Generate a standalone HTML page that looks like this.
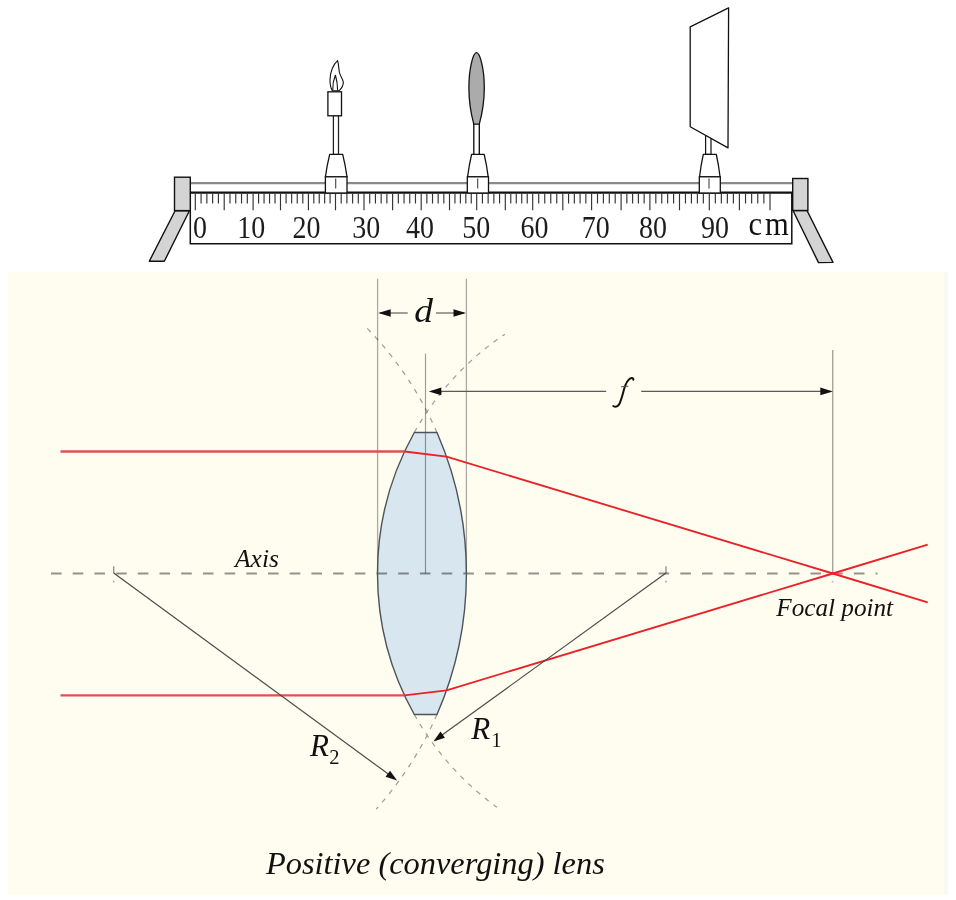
<!DOCTYPE html>
<html><head><meta charset="utf-8"><style>
html,body{margin:0;padding:0;background:#fff;}
svg{display:block;will-change:transform;}
text{font-family:"Liberation Serif",serif;}
</style></head><body>
<svg width="956" height="900" viewBox="0 0 956 900">
<rect width="956" height="900" fill="#fff"/>
<rect x="7.5" y="271.8" width="936.5" height="623.4" fill="#fffdf0"/><rect x="944" y="271.8" width="4" height="623.4" fill="#fafaf5"/><path d="M414.30 432.5 L436.99 432.5 A352.7 352.7 0 0 1 436.99 714.5 L414.30 714.5 A288.5 288.5 0 0 1 414.30 432.5 Z" fill="#d8e6f0" stroke="none"/><path d="M414.30 432.50 L415.13 431.03 L415.97 429.57 L416.81 428.11 L417.67 426.66 L418.53 425.21 L419.40 423.76 L420.28 422.33 L421.17 420.89 L422.06 419.46 L422.97 418.04 L423.88 416.62 L424.80 415.21 L425.73 413.81 L426.67 412.40 L427.61 411.01 L428.57 409.62 L429.53 408.23 L430.50 406.86 L431.47 405.48 L432.46 404.11 L433.45 402.75 L434.46 401.40 L435.46 400.05 L436.48 398.70 L437.51 397.37 L438.54 396.03 L439.58 394.71 L440.63 393.39 L441.69 392.07 L442.75 390.77 L443.82 389.46 L444.90 388.17 L445.99 386.88 L447.08 385.60 L448.18 384.32 L449.29 383.05 L450.41 381.79 L451.53 380.53 L452.66 379.28 L453.80 378.04 L454.95 376.80 L456.10 375.57 L457.26 374.35 L458.43 373.13 L459.60 371.93 L460.78 370.72 L461.97 369.53 L463.17 368.34 L464.37 367.16 L465.58 365.98 L466.80 364.81 L468.02 363.65 L469.25 362.50 L470.48 361.35 L471.73 360.22 L472.98 359.08 L474.23 357.96 L475.49 356.84 L476.76 355.73 L478.04 354.63 L479.32 353.54 L480.61 352.45 L481.91 351.37 L483.21 350.30 L484.51 349.23 L485.83 348.18 L487.15 347.13 L488.47 346.09 L489.80 345.05 L491.14 344.03 L492.49 343.01 L493.84 342.00 L495.19 341.00 L496.55 340.01 L497.92 339.02 L499.29 338.04 L500.67 337.07 L502.06 336.11 L503.45 335.16 L504.84 334.21" stroke="#9c9c9c" stroke-width="1.2" stroke-dasharray="5 6" fill="none"/><path d="M414.30 714.50 L415.07 715.86 L415.85 717.23 L416.63 718.58 L417.43 719.93 L418.22 721.28 L419.03 722.62 L419.84 723.96 L420.66 725.30 L421.49 726.63 L422.33 727.95 L423.17 729.27 L424.02 730.59 L424.88 731.90 L425.74 733.21 L426.61 734.51 L427.49 735.81 L428.37 737.10 L429.26 738.39 L430.16 739.67 L431.07 740.95 L431.98 742.22 L432.90 743.49 L433.83 744.76 L434.76 746.01 L435.70 747.27 L436.65 748.52 L437.60 749.76 L438.56 751.00 L439.53 752.23 L440.50 753.46 L441.48 754.68 L442.47 755.89 L443.47 757.10 L444.47 758.31 L445.47 759.51 L446.49 760.71 L447.51 761.89 L448.53 763.08 L449.57 764.26 L450.60 765.43 L451.65 766.60 L452.70 767.76 L453.76 768.91 L454.82 770.06 L455.89 771.21 L456.97 772.34 L458.05 773.48 L459.14 774.60 L460.24 775.72 L461.34 776.84 L462.45 777.95 L463.56 779.05 L464.68 780.14 L465.80 781.23 L466.93 782.32 L468.07 783.40 L469.21 784.47 L470.36 785.53 L471.52 786.59 L472.68 787.65 L473.84 788.69 L475.01 789.73 L476.19 790.77 L477.37 791.79 L478.56 792.82 L479.76 793.83 L480.95 794.84 L482.16 795.84 L483.37 796.83 L484.58 797.82 L485.81 798.80 L487.03 799.78 L488.26 800.75 L489.50 801.71 L490.74 802.67 L491.99 803.61 L493.24 804.56 L494.50 805.49 L495.76 806.42 L497.03 807.34" stroke="#9c9c9c" stroke-width="1.2" stroke-dasharray="5 6" fill="none"/><path d="M436.99 432.50 L436.33 430.99 L435.66 429.49 L434.99 427.99 L434.30 426.50 L433.62 425.00 L432.92 423.51 L432.22 422.03 L431.51 420.54 L430.79 419.06 L430.07 417.59 L429.34 416.12 L428.60 414.65 L427.86 413.18 L427.11 411.72 L426.35 410.26 L425.58 408.80 L424.81 407.35 L424.04 405.90 L423.25 404.46 L422.46 403.02 L421.66 401.58 L420.86 400.14 L420.04 398.71 L419.23 397.29 L418.40 395.87 L417.57 394.45 L416.73 393.03 L415.89 391.62 L415.04 390.22 L414.18 388.81 L413.32 387.41 L412.44 386.02 L411.57 384.63 L410.68 383.24 L409.79 381.86 L408.90 380.48 L407.99 379.11 L407.08 377.74 L406.17 376.37 L405.25 375.01 L404.32 373.65 L403.38 372.30 L402.44 370.95 L401.50 369.61 L400.54 368.27 L399.58 366.94 L398.62 365.60 L397.64 364.28 L396.67 362.96 L395.68 361.64 L394.69 360.33 L393.69 359.02 L392.69 357.72 L391.68 356.42 L390.67 355.13 L389.65 353.84 L388.62 352.55 L387.59 351.27 L386.55 350.00 L385.50 348.73 L384.45 347.47 L383.39 346.21 L382.33 344.95 L381.26 343.70 L380.19 342.46 L379.11 341.22 L378.02 339.98 L376.93 338.75 L375.84 337.53 L374.73 336.31 L373.62 335.10 L372.51 333.89 L371.39 332.68 L370.26 331.48 L369.13 330.29 L368.00 329.10 L366.86 327.92 L365.71 326.74 L364.55 325.57 L363.40 324.40" stroke="#9c9c9c" stroke-width="1.2" stroke-dasharray="5 6" fill="none"/><path d="M436.99 714.50 L436.42 715.79 L435.85 717.08 L435.27 718.37 L434.69 719.66 L434.10 720.94 L433.51 722.22 L432.91 723.50 L432.31 724.78 L431.70 726.05 L431.09 727.33 L430.47 728.60 L429.85 729.86 L429.22 731.13 L428.58 732.39 L427.94 733.65 L427.30 734.91 L426.65 736.16 L426.00 737.41 L425.34 738.66 L424.68 739.91 L424.01 741.15 L423.33 742.39 L422.66 743.63 L421.97 744.87 L421.28 746.10 L420.59 747.33 L419.89 748.56 L419.19 749.78 L418.48 751.00 L417.77 752.22 L417.05 753.44 L416.33 754.65 L415.60 755.86 L414.87 757.07 L414.13 758.27 L413.39 759.47 L412.64 760.67 L411.89 761.87 L411.13 763.06 L410.37 764.25 L409.60 765.43 L408.83 766.62 L408.06 767.80 L407.28 768.97 L406.49 770.15 L405.70 771.32 L404.91 772.49 L404.11 773.65 L403.31 774.81 L402.50 775.97 L401.68 777.12 L400.87 778.27 L400.04 779.42 L399.22 780.57 L398.39 781.71 L397.55 782.85 L396.71 783.98 L395.87 785.11 L395.02 786.24 L394.16 787.37 L393.30 788.49 L392.44 789.60 L391.57 790.72 L390.70 791.83 L389.83 792.94 L388.94 794.04 L388.06 795.14 L387.17 796.24 L386.28 797.33 L385.38 798.42 L384.47 799.51 L383.57 800.59 L382.66 801.67 L381.74 802.74 L380.82 803.81 L379.90 804.88 L378.97 805.94 L378.04 807.00 L377.10 808.06 L376.16 809.11" stroke="#9c9c9c" stroke-width="1.2" stroke-dasharray="5 6" fill="none"/><line x1="51" y1="573.5" x2="877.5" y2="573.5" stroke="rgba(0,0,0,0.42)" stroke-width="2" stroke-dasharray="10.6 11.1"/><circle cx="832.6" cy="581.8" r="1" fill="rgba(0,0,0,0.22)"/><line x1="113.7" y1="566.2" x2="113.7" y2="573" stroke="rgba(0,0,0,0.45)" stroke-width="1.3"/><circle cx="113.7" cy="581.6" r="1.1" fill="rgba(0,0,0,0.28)"/><line x1="666.0" y1="566.2" x2="666.0" y2="573" stroke="rgba(0,0,0,0.45)" stroke-width="1.3"/><circle cx="666.0" cy="581.6" r="1.1" fill="rgba(0,0,0,0.28)"/><line x1="377.6" y1="278.8" x2="377.6" y2="573.5" stroke="rgba(0,0,0,0.33)" stroke-width="1.3"/><line x1="466.4" y1="278.8" x2="466.4" y2="573.5" stroke="rgba(0,0,0,0.33)" stroke-width="1.3"/><line x1="425.5" y1="353.6" x2="425.5" y2="573.5" stroke="rgba(0,0,0,0.38)" stroke-width="1.2"/><line x1="832.8" y1="350" x2="832.8" y2="573.5" stroke="rgba(0,0,0,0.45)" stroke-width="1.1"/><path d="M414.30 432.5 L436.99 432.5 A352.7 352.7 0 0 1 436.99 714.5 L414.30 714.5 A288.5 288.5 0 0 1 414.30 432.5 Z" fill="none" stroke="#4d5358" stroke-width="1.4" stroke-linejoin="round"/><path d="M60.5 451.5 H404.57 M60.5 695.3 H404.47" fill="none" stroke="#e24f52" stroke-width="2.3"/><path d="M404.57 451.5 L446.50 456.7 L832.8 573.5 L927.7 602.4" fill="none" stroke="#ea2228" stroke-width="1.85" stroke-linejoin="round"/><path d="M404.47 695.3 L446.50 690.3 L832.8 573.5 L927.7 544.6" fill="none" stroke="#ea2228" stroke-width="1.85" stroke-linejoin="round"/><line x1="380" y1="313" x2="407.7" y2="313" stroke="#5a5a5a" stroke-width="1.15"/><line x1="436" y1="313" x2="464" y2="313" stroke="#5a5a5a" stroke-width="1.15"/><path d="M378.20 313.00 L390.70 309.20 L390.70 316.80 Z" fill="#111"/><path d="M466.00 313.00 L453.50 316.80 L453.50 309.20 Z" fill="#111"/><text transform="translate(414.3,322.2) scale(1.17,1.03)" font-family="Liberation Serif" font-style="italic" font-size="32" fill="#111">d</text><line x1="431" y1="391.4" x2="606.2" y2="391.4" stroke="#5a5a5a" stroke-width="1.15"/><line x1="641.2" y1="391.4" x2="831" y2="391.4" stroke="#5a5a5a" stroke-width="1.15"/><path d="M428.80 391.40 L441.30 387.60 L441.30 395.20 Z" fill="#111"/><path d="M832.80 391.40 L820.30 395.20 L820.30 387.60 Z" fill="#111"/><path d="M613.3 406.0 C615.6 407.4 617.6 406.6 619.1 404.4 C621.1 401 622.6 395 624.1 389 C625.6 384 627.6 379.6 630.4 378.3 C632 377.6 633.7 378.3 633.3 379.8" fill="none" stroke="#111" stroke-width="2" stroke-linecap="round"/><line x1="621" y1="386.8" x2="628.3" y2="386.3" stroke="#555" stroke-width="1.1"/><line x1="666" y1="573" x2="440" y2="736.6" stroke="#4a4a4a" stroke-width="1.2"/><path d="M433.40 741.40 L440.49 731.58 L444.94 737.73 Z" fill="#111"/><line x1="113.7" y1="573" x2="390" y2="775.3" stroke="#4a4a4a" stroke-width="1.2"/><path d="M397.10 780.60 L385.58 776.87 L390.07 770.74 Z" fill="#111"/><text x="235" y="567.4" font-family="Liberation Serif" font-style="italic" font-size="25.5" fill="#111">Axis</text><text x="776.3" y="615.9" font-family="Liberation Serif" font-style="italic" font-size="25.2" fill="#111">Focal point</text><text x="471.2" y="739.4" font-family="Liberation Serif" font-style="italic" font-size="31" fill="#111">R</text><text x="491.5" y="746.6" font-family="Liberation Serif" font-size="20" fill="#111">1</text><text x="310" y="756.4" font-family="Liberation Serif" font-style="italic" font-size="31" fill="#111">R</text><text x="329.3" y="763.5" font-family="Liberation Serif" font-size="20.5" fill="#111">2</text><text x="266" y="873.9" font-family="Liberation Serif" font-style="italic" font-size="32.4" fill="#111">Positive (converging) lens</text>
<g><line x1="190" y1="183.1" x2="793" y2="183.1" stroke="#8a8a8a" stroke-width="2.3"/><rect x="190.3" y="192.7" width="601.5" height="51" fill="#fff" stroke="none"/><path d="M190.3 192.7 V243.7 H791.8 V192.7" fill="none" stroke="#111" stroke-width="1.5"/><line x1="190" y1="192.6" x2="793" y2="192.6" stroke="#111" stroke-width="2.4"/><path d="M195.30 193.5V210.2M201.08 193.5V203.6M206.86 193.5V203.6M212.64 193.5V203.6M218.42 193.5V203.6M224.20 193.5V210.2M229.98 193.5V203.6M235.76 193.5V203.6M241.54 193.5V203.6M247.32 193.5V203.6M253.10 193.5V210.2M258.58 193.5V203.6M264.06 193.5V203.6M269.54 193.5V203.6M275.02 193.5V203.6M280.50 193.5V210.2M286.08 193.5V203.6M291.66 193.5V203.6M297.24 193.5V203.6M302.82 193.5V203.6M308.40 193.5V210.2M313.82 193.5V203.6M319.24 193.5V203.6M324.66 193.5V203.6M330.08 193.5V203.6M335.50 193.5V210.2M341.20 193.5V203.6M346.90 193.5V203.6M352.60 193.5V203.6M358.30 193.5V203.6M364.00 193.5V210.2M369.72 193.5V203.6M375.44 193.5V203.6M381.16 193.5V203.6M386.88 193.5V203.6M392.60 193.5V210.2M398.32 193.5V203.6M404.04 193.5V203.6M409.76 193.5V203.6M415.48 193.5V203.6M421.20 193.5V210.2M426.86 193.5V203.6M432.52 193.5V203.6M438.18 193.5V203.6M443.84 193.5V203.6M449.50 193.5V210.2M454.94 193.5V203.6M460.38 193.5V203.6M465.82 193.5V203.6M471.26 193.5V203.6M476.70 193.5V210.2M482.42 193.5V203.6M488.14 193.5V203.6M493.86 193.5V203.6M499.58 193.5V203.6M505.30 193.5V210.2M510.78 193.5V203.6M516.26 193.5V203.6M521.74 193.5V203.6M527.22 193.5V203.6M532.70 193.5V210.2M538.72 193.5V203.6M544.74 193.5V203.6M550.76 193.5V203.6M556.78 193.5V203.6M562.80 193.5V210.2M568.56 193.5V203.6M574.32 193.5V203.6M580.08 193.5V203.6M585.84 193.5V203.6M591.60 193.5V210.2M597.50 193.5V203.6M603.40 193.5V203.6M609.30 193.5V203.6M615.20 193.5V203.6M621.10 193.5V210.2M626.86 193.5V203.6M632.62 193.5V203.6M638.38 193.5V203.6M644.14 193.5V203.6M649.90 193.5V210.2M655.82 193.5V203.6M661.74 193.5V203.6M667.66 193.5V203.6M673.58 193.5V203.6M679.50 193.5V210.2M685.46 193.5V203.6M691.42 193.5V203.6M697.38 193.5V203.6M703.34 193.5V203.6M709.30 193.5V210.2M715.32 193.5V203.6M721.34 193.5V203.6M727.36 193.5V203.6M733.38 193.5V203.6M739.40 193.5V210.2M745.52 193.5V203.6M751.64 193.5V203.6M757.76 193.5V203.6M763.88 193.5V203.6M770.00 193.5V210.2" stroke="#333" stroke-width="1.15" fill="none"/><text transform="translate(192.9,237.6) scale(1,1.1)" font-family="Liberation Serif" font-size="28" fill="#1c1c1c">0</text><text transform="translate(237.2,237.6) scale(1,1.1)" font-family="Liberation Serif" font-size="28" fill="#1c1c1c">10</text><text transform="translate(292.5,237.6) scale(1,1.1)" font-family="Liberation Serif" font-size="28" fill="#1c1c1c">20</text><text transform="translate(352.2,237.6) scale(1,1.1)" font-family="Liberation Serif" font-size="28" fill="#1c1c1c">30</text><text transform="translate(406,237.6) scale(1,1.1)" font-family="Liberation Serif" font-size="28" fill="#1c1c1c">40</text><text transform="translate(462.3,237.6) scale(1,1.1)" font-family="Liberation Serif" font-size="28" fill="#1c1c1c">50</text><text transform="translate(520.6,237.6) scale(1,1.1)" font-family="Liberation Serif" font-size="28" fill="#1c1c1c">60</text><text transform="translate(581.8,237.6) scale(1,1.1)" font-family="Liberation Serif" font-size="28" fill="#1c1c1c">70</text><text transform="translate(639,237.6) scale(1,1.1)" font-family="Liberation Serif" font-size="28" fill="#1c1c1c">80</text><text transform="translate(701,237.6) scale(1,1.1)" font-family="Liberation Serif" font-size="28" fill="#1c1c1c">90</text><text transform="translate(748.4,235.4) scale(1.02,1.12)" font-family="Liberation Serif" font-size="30" fill="#111" letter-spacing="3">cm</text><path d="M175.1 210.8 L189.4 210.8 L164.3 261.3 L149.3 261.2 Z" fill="#d4d4d4" stroke="#111" stroke-width="1.4" stroke-linejoin="round"/><rect x="174.5" y="177.2" width="15.8" height="33.4" fill="#d4d4d4" stroke="#111" stroke-width="1.4"/><path d="M793 210.5 L807 210.5 L833 262.4 L818.5 262.6 Z" fill="#d4d4d4" stroke="#111" stroke-width="1.4" stroke-linejoin="round"/><rect x="792.7" y="178.5" width="15.2" height="32" fill="#d4d4d4" stroke="#111" stroke-width="1.4"/><rect x="333.4" y="115.5" width="5.1" height="39" fill="#fff" stroke="#222" stroke-width="1.25"/><path d="M329.70 154.4 L342.70 154.4 Q345.45 165.6 347.00 176.8 L325.40 176.8 Q326.95 165.6 329.70 154.4 Z" fill="#fff" stroke="#111" stroke-width="1.3" stroke-linejoin="round"/><rect x="325.40" y="176.8" width="21.60" height="16.20" fill="#fff" stroke="#111" stroke-width="1.3"/><line x1="335.70" y1="178.4" x2="335.70" y2="188.4" stroke="#444" stroke-width="1.1"/><rect x="327.9" y="91.8" width="13.6" height="24" fill="#fff" stroke="#111" stroke-width="1.3"/><path d="M337.6 60.6 C333.5 64 330 72 330 80 C330 85 331 88.5 332.3 90.6 L339 90.8 C341.5 88.5 343.5 85.5 343.3 82 C343 79 340 76 339.3 72 C338.7 68 338.6 64 337.6 60.6 Z" fill="#fff" stroke="#111" stroke-width="1.1"/><path d="M335.4 75 C333.8 79 332.5 85 332.8 90 M335.4 75 C336.6 79 337.6 85 337.6 90.5" fill="none" stroke="#111" stroke-width="1.1"/><rect x="473.8" y="124" width="5.5" height="30.5" fill="#fff"/><path d="M473.8 123.6V154.5M479.3 123.6V154.5" stroke="#111" stroke-width="1.35"/><path d="M471.60 154.4 L484.20 154.4 Q486.80 165.6 488.20 176.8 L467.60 176.8 Q469.00 165.6 471.60 154.4 Z" fill="#fff" stroke="#111" stroke-width="1.3" stroke-linejoin="round"/><rect x="467.30" y="176.8" width="21.20" height="16.20" fill="#fff" stroke="#111" stroke-width="1.3"/><line x1="477.70" y1="178.4" x2="477.70" y2="188.4" stroke="#444" stroke-width="1.1"/><path d="M476.5 52.6 C479.8 52.6 484.3 68 484.3 88 C484.3 103 481.8 115 479.3 124.2 L473.8 124.2 C471.3 115 468.9 103 468.9 88 C468.9 68 473.2 52.6 476.5 52.6 Z" fill="#ababab" stroke="#111" stroke-width="1.3"/><rect x="705.6" y="130" width="5.4" height="24.4" fill="#fff" stroke="#111" stroke-width="1.2"/><path d="M703.30 154.4 L716.30 154.4 Q718.77 165.6 720.05 176.8 L699.55 176.8 Q700.82 165.6 703.30 154.4 Z" fill="#fff" stroke="#111" stroke-width="1.3" stroke-linejoin="round"/><rect x="699.30" y="176.8" width="21.00" height="16.20" fill="#fff" stroke="#111" stroke-width="1.3"/><line x1="709.00" y1="178.4" x2="709.00" y2="188.4" stroke="#444" stroke-width="1.1"/><path d="M690.2 26.9 L728.6 7.9 L728 147.9 L690.2 126.8 Z" fill="#fff" stroke="#111" stroke-width="1.3" stroke-linejoin="round"/></g>
</svg>
</body></html>
